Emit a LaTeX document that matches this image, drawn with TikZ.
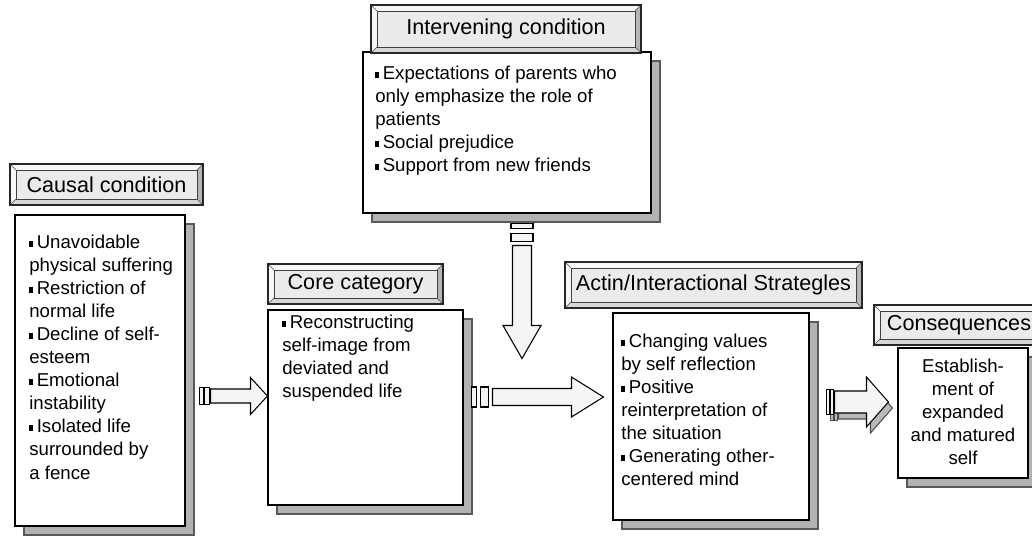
\documentclass[tikz,border=0pt]{standalone}
\usepackage{fontspec}
\setmainfont{Liberation Sans}
\usetikzlibrary{calc,fit,shadows}

% small square bullet
\newcommand{\sqb}{\rule[0.1em]{0.22em}{0.32em}\hspace{0.18em}}

% bevelled title plate: name, x1, y1, x2, y2, text
\newcommand{\titlebox}[6]{%
  \fill[gray!32] (#2,#3) rectangle (#4,#5);
  \fill[gray!58] (#4,#3) -- (#4,#5) -- (#4-6,#5-6) -- (#4-6,#3+6) -- cycle;
  \fill[gray!6] (#2,#5) -- (#2,#3) -- (#4,#3) -- (#4-6,#3+6) -- (#2+6,#3+6) -- (#2+6,#5-6) -- cycle;
  \draw[gray!60!black,line width=0.3pt] (#2,#3) -- (#2+6,#3+6) (#4,#3) -- (#4-6,#3+6)
       (#2,#5) -- (#2+6,#5-6) (#4,#5) -- (#4-6,#5-6);
  \draw[fill=gray!16,draw=gray!50!black,line width=0.4pt] (#2+6,#3+6) rectangle (#4-6,#5-6);
  \draw[black!85,line width=0.7pt] (#2,#3) rectangle (#4,#5);
  \node[ttext] (#1) at ({(#2+#4)/2},{(#3+#5)/2}) {#6};
}

% block arrow: [style], tip, angle, length, shaft start, shaft half, head half, head length, stripes
\newcommand{\blockarrow}[9][arrowbody]{%
  \begin{scope}[shift={(#2)},rotate=#3]
    \foreach \sa/\sb in {#9}
      \filldraw[#1] (-#4+\sa,-#6-1.5) rectangle (-#4+\sb,#6+1.5);
    \filldraw[#1] (0,0) -- (-#8,#7) -- (-#8,#6) -- (-#4+#5,#6) -- (-#4+#5,-#6)
      -- (-#8,-#6) -- (-#8,-#7) -- cycle;
  \end{scope}
}

\begin{document}
\begin{tikzpicture}[x=0.02cm,y=-0.02cm,
  cbox/.style={draw=black,fill=white,line width=0.6pt,inner sep=0pt,
    drop shadow={shadow xshift=0.18cm,shadow yshift=-0.18cm,opacity=1,
      fill=gray!60,draw=gray!70!black}},
  btext/.style={font=\fontsize{10.6}{13.1}\selectfont,align=left,inner sep=0pt,anchor=north west},
  ttext/.style={font=\fontsize{12.3}{14}\selectfont,inner sep=0pt},
  arrowbody/.style={draw=black,fill=gray!8,line width=0.6pt},
  arrowshade/.style={draw=gray!60!black,fill=gray!55,line width=0.6pt}]
  \useasboundingbox (0,0) rectangle (1032,536);
  \clip (0,0) rectangle (1032,536);

  % content boxes
  \node[cbox,fit={(15,215) (185,526)}] (causal) {};
  \node[cbox,fit={(363,52) (651,213)}] (interv) {};
  \node[cbox,fit={(268,310) (463,505)}] (core) {};
  \node[cbox,fit={(613,313) (809,520)}] (action) {};
  \node[cbox,fit={(898,348) (1028,478)}] (conseq) {};

  % title plates
  \titlebox{causaltitle}{10}{164}{203}{205}{Causal condition}
  \titlebox{intervtitle}{371}{5}{641}{53}{Intervening condition}
  \titlebox{coretitle}{268}{264}{443}{304}{Core category}
  \titlebox{actiontitle}{565}{262}{862}{308}{Actin/Interactional Strategles}
  \titlebox{conseqtitle}{874}{305}{1044}{345}{Consequences}

  % box texts
  \node[btext] (causaltext) at (29,235) {\sqb Unavoidable\\physical suffering\\\sqb Restriction of\\normal life\\\sqb Decline of self-\\esteem\\\sqb Emotional\\instability\\\sqb Isolated life\\surrounded by\\a fence};
  \node[btext] (intervtext) at (375,66) {\sqb Expectations of parents who\\only emphasize the role of\\patients\\\sqb Social prejudice\\\sqb Support from new friends};
  \node[btext] (coretext) at (282,315) {\sqb Reconstructing\\self-image from\\deviated and\\suspended life};
  \node[btext] (actiontext) at (621,334) {\sqb Changing values\\by self reflection\\\sqb Positive\\reinterpretation of\\the situation\\\sqb Generating other-\\centered mind};
  \node[btext,anchor=north,align=center] (conseqtext) at (963,359) {Establish-\\ment of\\expanded\\and matured\\self};

  % arrows
  \coordinate (drop) at ($(interv.south)+(15,145)$);
  \blockarrow{drop}{-90}{135}{22}{9.5}{19}{33}{0/5,10/18}
  \blockarrow{core.west |- 0,396}{0}{68}{11}{7}{18.5}{17}{0/4,5/10}
  \blockarrow{$(action.west |- 0,397)+(-9,0)$}{0}{132}{21}{8.5}{20}{32}{0/5,9/17}
  \blockarrow[arrowshade]{$(conseq.west |- 0,402)+(-5,6)$}{0}{62}{8}{11}{25}{22}{0/3,4/7}
  \blockarrow{$(conseq.west |- 0,402)+(-9,0)$}{0}{62}{8}{11}{25}{22}{0/3,4/7}
\end{tikzpicture}
\end{document}
